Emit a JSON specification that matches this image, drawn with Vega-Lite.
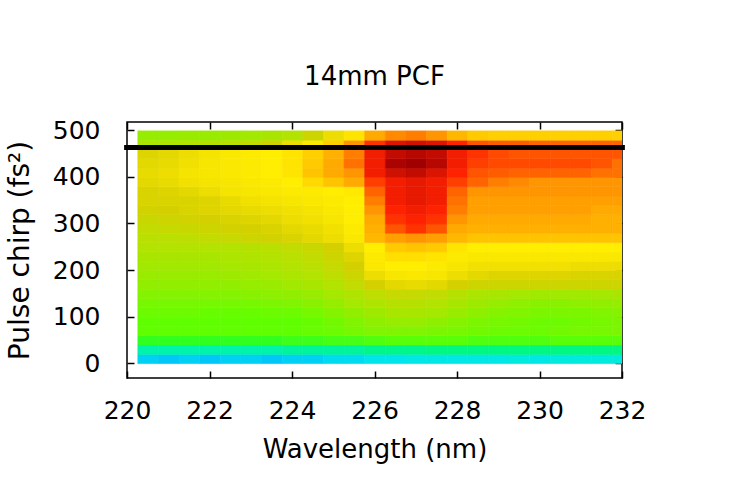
{
  "$schema": "https://vega.github.io/schema/vega-lite/v6.json",
  "autosize": "none",
  "width": 495,
  "height": 256,
  "padding": {"left": 127, "top": 122, "right": 128, "bottom": 122},
  "background": "white",
  "title": {"text": "14mm PCF", "font": "DejaVu Sans", "fontSize": 26, "fontWeight": "normal", "color": "black", "baseline": "alphabetic", "offset": 7},
  "config": {
    "view": {"stroke": "black", "strokeWidth": 1.5},
    "axis": {"font": "DejaVu Sans", "labelFont": "DejaVu Sans", "titleFont": "DejaVu Sans", "labelFontSize": 25, "titleFontSize": 26, "titleFontWeight": "normal", "labelColor": "black", "titleColor": "black", "tickColor": "black", "tickWidth": 1.5, "tickSize": -7, "domain": false, "grid": false}
  },
  "datasets": {
    "line": [{"c": 463, "w0": 219.93, "w1": 232.07}],
    "pcf": [
{"w":220.5,"c":10,"v":6},{"w":221,"c":10,"v":5},{"w":221.5,"c":10,"v":6},{"w":222,"c":10,"v":5},{"w":222.5,"c":10,"v":6},{"w":223,"c":10,"v":6},{"w":223.5,"c":10,"v":5},{"w":224,"c":10,"v":6},{"w":224.5,"c":10,"v":6},{"w":225,"c":10,"v":7},{"w":225.5,"c":10,"v":7},{"w":226,"c":10,"v":8},{"w":226.5,"c":10,"v":8},{"w":227,"c":10,"v":9},{"w":227.5,"c":10,"v":9},{"w":228,"c":10,"v":9},{"w":228.5,"c":10,"v":9},{"w":229,"c":10,"v":9},{"w":229.5,"c":10,"v":10},{"w":230,"c":10,"v":9},{"w":230.5,"c":10,"v":10},{"w":231,"c":10,"v":10},{"w":231.5,"c":10,"v":10},{"w":232,"c":10,"v":10},
{"w":220.5,"c":30,"v":14},{"w":221,"c":30,"v":14},{"w":221.5,"c":30,"v":14},{"w":222,"c":30,"v":14},{"w":222.5,"c":30,"v":14},{"w":223,"c":30,"v":14},{"w":223.5,"c":30,"v":14},{"w":224,"c":30,"v":15},{"w":224.5,"c":30,"v":15},{"w":225,"c":30,"v":15},{"w":225.5,"c":30,"v":15},{"w":226,"c":30,"v":16},{"w":226.5,"c":30,"v":16},{"w":227,"c":30,"v":16},{"w":227.5,"c":30,"v":17},{"w":228,"c":30,"v":17},{"w":228.5,"c":30,"v":17},{"w":229,"c":30,"v":17},{"w":229.5,"c":30,"v":17},{"w":230,"c":30,"v":17},{"w":230.5,"c":30,"v":17},{"w":231,"c":30,"v":17},{"w":231.5,"c":30,"v":17},{"w":232,"c":30,"v":17},
{"w":220.5,"c":50,"v":24},{"w":221,"c":50,"v":24},{"w":221.5,"c":50,"v":24},{"w":222,"c":50,"v":24},{"w":222.5,"c":50,"v":24},{"w":223,"c":50,"v":24},{"w":223.5,"c":50,"v":24},{"w":224,"c":50,"v":25},{"w":224.5,"c":50,"v":25},{"w":225,"c":50,"v":26},{"w":225.5,"c":50,"v":26},{"w":226,"c":50,"v":27},{"w":226.5,"c":50,"v":28},{"w":227,"c":50,"v":28},{"w":227.5,"c":50,"v":28},{"w":228,"c":50,"v":28},{"w":228.5,"c":50,"v":27},{"w":229,"c":50,"v":27},{"w":229.5,"c":50,"v":27},{"w":230,"c":50,"v":27},{"w":230.5,"c":50,"v":28},{"w":231,"c":50,"v":28},{"w":231.5,"c":50,"v":28},{"w":232,"c":50,"v":28},
{"w":220.5,"c":70,"v":29},{"w":221,"c":70,"v":29},{"w":221.5,"c":70,"v":29},{"w":222,"c":70,"v":29},{"w":222.5,"c":70,"v":29},{"w":223,"c":70,"v":29},{"w":223.5,"c":70,"v":29},{"w":224,"c":70,"v":29},{"w":224.5,"c":70,"v":30},{"w":225,"c":70,"v":31},{"w":225.5,"c":70,"v":33},{"w":226,"c":70,"v":35},{"w":226.5,"c":70,"v":35},{"w":227,"c":70,"v":35},{"w":227.5,"c":70,"v":34},{"w":228,"c":70,"v":33},{"w":228.5,"c":70,"v":32},{"w":229,"c":70,"v":31},{"w":229.5,"c":70,"v":31},{"w":230,"c":70,"v":31},{"w":230.5,"c":70,"v":32},{"w":231,"c":70,"v":33},{"w":231.5,"c":70,"v":33},{"w":232,"c":70,"v":34},
{"w":220.5,"c":90,"v":29},{"w":221,"c":90,"v":29},{"w":221.5,"c":90,"v":29},{"w":222,"c":90,"v":29},{"w":222.5,"c":90,"v":29},{"w":223,"c":90,"v":29},{"w":223.5,"c":90,"v":29},{"w":224,"c":90,"v":29},{"w":224.5,"c":90,"v":30},{"w":225,"c":90,"v":32},{"w":225.5,"c":90,"v":35},{"w":226,"c":90,"v":38},{"w":226.5,"c":90,"v":40},{"w":227,"c":90,"v":40},{"w":227.5,"c":90,"v":38},{"w":228,"c":90,"v":36},{"w":228.5,"c":90,"v":34},{"w":229,"c":90,"v":33},{"w":229.5,"c":90,"v":32},{"w":230,"c":90,"v":31},{"w":230.5,"c":90,"v":31},{"w":231,"c":90,"v":32},{"w":231.5,"c":90,"v":33},{"w":232,"c":90,"v":34},
{"w":220.5,"c":110,"v":31},{"w":221,"c":110,"v":31},{"w":221.5,"c":110,"v":31},{"w":222,"c":110,"v":30},{"w":222.5,"c":110,"v":30},{"w":223,"c":110,"v":30},{"w":223.5,"c":110,"v":31},{"w":224,"c":110,"v":31},{"w":224.5,"c":110,"v":33},{"w":225,"c":110,"v":36},{"w":225.5,"c":110,"v":39},{"w":226,"c":110,"v":42},{"w":226.5,"c":110,"v":45},{"w":227,"c":110,"v":45},{"w":227.5,"c":110,"v":44},{"w":228,"c":110,"v":41},{"w":228.5,"c":110,"v":38},{"w":229,"c":110,"v":36},{"w":229.5,"c":110,"v":35},{"w":230,"c":110,"v":34},{"w":230.5,"c":110,"v":34},{"w":231,"c":110,"v":34},{"w":231.5,"c":110,"v":35},{"w":232,"c":110,"v":36},
{"w":220.5,"c":130,"v":33},{"w":221,"c":130,"v":33},{"w":221.5,"c":130,"v":33},{"w":222,"c":130,"v":33},{"w":222.5,"c":130,"v":33},{"w":223,"c":130,"v":33},{"w":223.5,"c":130,"v":34},{"w":224,"c":130,"v":35},{"w":224.5,"c":130,"v":37},{"w":225,"c":130,"v":40},{"w":225.5,"c":130,"v":44},{"w":226,"c":130,"v":47},{"w":226.5,"c":130,"v":49},{"w":227,"c":130,"v":49},{"w":227.5,"c":130,"v":48},{"w":228,"c":130,"v":45},{"w":228.5,"c":130,"v":42},{"w":229,"c":130,"v":40},{"w":229.5,"c":130,"v":38},{"w":230,"c":130,"v":37},{"w":230.5,"c":130,"v":37},{"w":231,"c":130,"v":38},{"w":231.5,"c":130,"v":39},{"w":232,"c":130,"v":40},
{"w":220.5,"c":150,"v":36},{"w":221,"c":150,"v":36},{"w":221.5,"c":150,"v":36},{"w":222,"c":150,"v":36},{"w":222.5,"c":150,"v":36},{"w":223,"c":150,"v":37},{"w":223.5,"c":150,"v":38},{"w":224,"c":150,"v":39},{"w":224.5,"c":150,"v":41},{"w":225,"c":150,"v":44},{"w":225.5,"c":150,"v":47},{"w":226,"c":150,"v":51},{"w":226.5,"c":150,"v":53},{"w":227,"c":150,"v":53},{"w":227.5,"c":150,"v":52},{"w":228,"c":150,"v":49},{"w":228.5,"c":150,"v":46},{"w":229,"c":150,"v":45},{"w":229.5,"c":150,"v":44},{"w":230,"c":150,"v":43},{"w":230.5,"c":150,"v":43},{"w":231,"c":150,"v":43},{"w":231.5,"c":150,"v":44},{"w":232,"c":150,"v":45},
{"w":220.5,"c":170,"v":39},{"w":221,"c":170,"v":39},{"w":221.5,"c":170,"v":39},{"w":222,"c":170,"v":39},{"w":222.5,"c":170,"v":39},{"w":223,"c":170,"v":40},{"w":223.5,"c":170,"v":41},{"w":224,"c":170,"v":43},{"w":224.5,"c":170,"v":45},{"w":225,"c":170,"v":48},{"w":225.5,"c":170,"v":52},{"w":226,"c":170,"v":57},{"w":226.5,"c":170,"v":60},{"w":227,"c":170,"v":61},{"w":227.5,"c":170,"v":60},{"w":228,"c":170,"v":57},{"w":228.5,"c":170,"v":55},{"w":229,"c":170,"v":55},{"w":229.5,"c":170,"v":55},{"w":230,"c":170,"v":55},{"w":230.5,"c":170,"v":55},{"w":231,"c":170,"v":55},{"w":231.5,"c":170,"v":55},{"w":232,"c":170,"v":55},
{"w":220.5,"c":190,"v":41},{"w":221,"c":190,"v":41},{"w":221.5,"c":190,"v":41},{"w":222,"c":190,"v":41},{"w":222.5,"c":190,"v":42},{"w":223,"c":190,"v":43},{"w":223.5,"c":190,"v":44},{"w":224,"c":190,"v":46},{"w":224.5,"c":190,"v":48},{"w":225,"c":190,"v":51},{"w":225.5,"c":190,"v":55},{"w":226,"c":190,"v":62},{"w":226.5,"c":190,"v":65},{"w":227,"c":190,"v":66},{"w":227.5,"c":190,"v":65},{"w":228,"c":190,"v":62},{"w":228.5,"c":190,"v":60},{"w":229,"c":190,"v":59},{"w":229.5,"c":190,"v":59},{"w":230,"c":190,"v":59},{"w":230.5,"c":190,"v":59},{"w":231,"c":190,"v":58},{"w":231.5,"c":190,"v":58},{"w":232,"c":190,"v":58},
{"w":220.5,"c":210,"v":43},{"w":221,"c":210,"v":43},{"w":221.5,"c":210,"v":43},{"w":222,"c":210,"v":43},{"w":222.5,"c":210,"v":44},{"w":223,"c":210,"v":45},{"w":223.5,"c":210,"v":46},{"w":224,"c":210,"v":48},{"w":224.5,"c":210,"v":50},{"w":225,"c":210,"v":53},{"w":225.5,"c":210,"v":57},{"w":226,"c":210,"v":66},{"w":226.5,"c":210,"v":68},{"w":227,"c":210,"v":68},{"w":227.5,"c":210,"v":67},{"w":228,"c":210,"v":65},{"w":228.5,"c":210,"v":63},{"w":229,"c":210,"v":63},{"w":229.5,"c":210,"v":63},{"w":230,"c":210,"v":63},{"w":230.5,"c":210,"v":63},{"w":231,"c":210,"v":62},{"w":231.5,"c":210,"v":62},{"w":232,"c":210,"v":62},
{"w":220.5,"c":230,"v":45},{"w":221,"c":230,"v":45},{"w":221.5,"c":230,"v":45},{"w":222,"c":230,"v":45},{"w":222.5,"c":230,"v":46},{"w":223,"c":230,"v":47},{"w":223.5,"c":230,"v":48},{"w":224,"c":230,"v":50},{"w":224.5,"c":230,"v":52},{"w":225,"c":230,"v":55},{"w":225.5,"c":230,"v":59},{"w":226,"c":230,"v":67},{"w":226.5,"c":230,"v":71},{"w":227,"c":230,"v":71},{"w":227.5,"c":230,"v":70},{"w":228,"c":230,"v":67},{"w":228.5,"c":230,"v":66},{"w":229,"c":230,"v":66},{"w":229.5,"c":230,"v":66},{"w":230,"c":230,"v":66},{"w":230.5,"c":230,"v":66},{"w":231,"c":230,"v":66},{"w":231.5,"c":230,"v":66},{"w":232,"c":230,"v":66},
{"w":220.5,"c":250,"v":48},{"w":221,"c":250,"v":48},{"w":221.5,"c":250,"v":48},{"w":222,"c":250,"v":48},{"w":222.5,"c":250,"v":48},{"w":223,"c":250,"v":49},{"w":223.5,"c":250,"v":50},{"w":224,"c":250,"v":52},{"w":224.5,"c":250,"v":54},{"w":225,"c":250,"v":57},{"w":225.5,"c":250,"v":62},{"w":226,"c":250,"v":68},{"w":226.5,"c":250,"v":75},{"w":227,"c":250,"v":76},{"w":227.5,"c":250,"v":75},{"w":228,"c":250,"v":70},{"w":228.5,"c":250,"v":68},{"w":229,"c":250,"v":68},{"w":229.5,"c":250,"v":68},{"w":230,"c":250,"v":68},{"w":230.5,"c":250,"v":68},{"w":231,"c":250,"v":68},{"w":231.5,"c":250,"v":68},{"w":232,"c":250,"v":68},
{"w":220.5,"c":270,"v":50},{"w":221,"c":270,"v":50},{"w":221.5,"c":270,"v":51},{"w":222,"c":270,"v":52},{"w":222.5,"c":270,"v":53},{"w":223,"c":270,"v":55},{"w":223.5,"c":270,"v":56},{"w":224,"c":270,"v":58},{"w":224.5,"c":270,"v":60},{"w":225,"c":270,"v":62},{"w":225.5,"c":270,"v":66},{"w":226,"c":270,"v":78},{"w":226.5,"c":270,"v":81},{"w":227,"c":270,"v":82},{"w":227.5,"c":270,"v":81},{"w":228,"c":270,"v":78},{"w":228.5,"c":270,"v":76},{"w":229,"c":270,"v":76},{"w":229.5,"c":270,"v":76},{"w":230,"c":270,"v":76},{"w":230.5,"c":270,"v":76},{"w":231,"c":270,"v":76},{"w":231.5,"c":270,"v":76},{"w":232,"c":270,"v":76},
{"w":220.5,"c":290,"v":52},{"w":221,"c":290,"v":53},{"w":221.5,"c":290,"v":54},{"w":222,"c":290,"v":55},{"w":222.5,"c":290,"v":56},{"w":223,"c":290,"v":57},{"w":223.5,"c":290,"v":58},{"w":224,"c":290,"v":60},{"w":224.5,"c":290,"v":61},{"w":225,"c":290,"v":63},{"w":225.5,"c":290,"v":67},{"w":226,"c":290,"v":79},{"w":226.5,"c":290,"v":88},{"w":227,"c":290,"v":91},{"w":227.5,"c":290,"v":88},{"w":228,"c":290,"v":80},{"w":228.5,"c":290,"v":79},{"w":229,"c":290,"v":79},{"w":229.5,"c":290,"v":79},{"w":230,"c":290,"v":79},{"w":230.5,"c":290,"v":79},{"w":231,"c":290,"v":79},{"w":231.5,"c":290,"v":79},{"w":232,"c":290,"v":79},
{"w":220.5,"c":310,"v":54},{"w":221,"c":310,"v":55},{"w":221.5,"c":310,"v":56},{"w":222,"c":310,"v":57},{"w":222.5,"c":310,"v":58},{"w":223,"c":310,"v":59},{"w":223.5,"c":310,"v":60},{"w":224,"c":310,"v":62},{"w":224.5,"c":310,"v":63},{"w":225,"c":310,"v":65},{"w":225.5,"c":310,"v":68},{"w":226,"c":310,"v":80},{"w":226.5,"c":310,"v":91},{"w":227,"c":310,"v":92},{"w":227.5,"c":310,"v":91},{"w":228,"c":310,"v":82},{"w":228.5,"c":310,"v":80},{"w":229,"c":310,"v":80},{"w":229.5,"c":310,"v":80},{"w":230,"c":310,"v":80},{"w":230.5,"c":310,"v":80},{"w":231,"c":310,"v":80},{"w":231.5,"c":310,"v":79},{"w":232,"c":310,"v":79},
{"w":220.5,"c":330,"v":56},{"w":221,"c":330,"v":57},{"w":221.5,"c":330,"v":58},{"w":222,"c":330,"v":59},{"w":222.5,"c":330,"v":60},{"w":223,"c":330,"v":61},{"w":223.5,"c":330,"v":62},{"w":224,"c":330,"v":63},{"w":224.5,"c":330,"v":64},{"w":225,"c":330,"v":66},{"w":225.5,"c":330,"v":68},{"w":226,"c":330,"v":82},{"w":226.5,"c":330,"v":92},{"w":227,"c":330,"v":93},{"w":227.5,"c":330,"v":92},{"w":228,"c":330,"v":84},{"w":228.5,"c":330,"v":81},{"w":229,"c":330,"v":81},{"w":229.5,"c":330,"v":81},{"w":230,"c":330,"v":81},{"w":230.5,"c":330,"v":81},{"w":231,"c":330,"v":81},{"w":231.5,"c":330,"v":80},{"w":232,"c":330,"v":80},
{"w":220.5,"c":350,"v":58},{"w":221,"c":350,"v":58},{"w":221.5,"c":350,"v":58},{"w":222,"c":350,"v":59},{"w":222.5,"c":350,"v":61},{"w":223,"c":350,"v":63},{"w":223.5,"c":350,"v":64},{"w":224,"c":350,"v":65},{"w":224.5,"c":350,"v":66},{"w":225,"c":350,"v":67},{"w":225.5,"c":350,"v":68},{"w":226,"c":350,"v":84},{"w":226.5,"c":350,"v":93},{"w":227,"c":350,"v":94},{"w":227.5,"c":350,"v":93},{"w":228,"c":350,"v":85},{"w":228.5,"c":350,"v":81},{"w":229,"c":350,"v":81},{"w":229.5,"c":350,"v":81},{"w":230,"c":350,"v":81},{"w":230.5,"c":350,"v":81},{"w":231,"c":350,"v":81},{"w":231.5,"c":350,"v":81},{"w":232,"c":350,"v":81},
{"w":220.5,"c":370,"v":58},{"w":221,"c":370,"v":59},{"w":221.5,"c":370,"v":60},{"w":222,"c":370,"v":62},{"w":222.5,"c":370,"v":64},{"w":223,"c":370,"v":65},{"w":223.5,"c":370,"v":66},{"w":224,"c":370,"v":67},{"w":224.5,"c":370,"v":67},{"w":225,"c":370,"v":68},{"w":225.5,"c":370,"v":69},{"w":226,"c":370,"v":86},{"w":226.5,"c":370,"v":93},{"w":227,"c":370,"v":94},{"w":227.5,"c":370,"v":93},{"w":228,"c":370,"v":86},{"w":228.5,"c":370,"v":82},{"w":229,"c":370,"v":82},{"w":229.5,"c":370,"v":82},{"w":230,"c":370,"v":82},{"w":230.5,"c":370,"v":82},{"w":231,"c":370,"v":82},{"w":231.5,"c":370,"v":82},{"w":232,"c":370,"v":82},
{"w":220.5,"c":390,"v":60},{"w":221,"c":390,"v":61},{"w":221.5,"c":390,"v":63},{"w":222,"c":390,"v":64},{"w":222.5,"c":390,"v":65},{"w":223,"c":390,"v":66},{"w":223.5,"c":390,"v":67},{"w":224,"c":390,"v":68},{"w":224.5,"c":390,"v":72},{"w":225,"c":390,"v":76},{"w":225.5,"c":390,"v":80},{"w":226,"c":390,"v":90},{"w":226.5,"c":390,"v":93},{"w":227,"c":390,"v":94},{"w":227.5,"c":390,"v":93},{"w":228,"c":390,"v":90},{"w":228.5,"c":390,"v":86},{"w":229,"c":390,"v":84},{"w":229.5,"c":390,"v":83},{"w":230,"c":390,"v":82},{"w":230.5,"c":390,"v":82},{"w":231,"c":390,"v":82},{"w":231.5,"c":390,"v":82},{"w":232,"c":390,"v":82},
{"w":220.5,"c":410,"v":61},{"w":221,"c":410,"v":62},{"w":221.5,"c":410,"v":64},{"w":222,"c":410,"v":65},{"w":222.5,"c":410,"v":66},{"w":223,"c":410,"v":67},{"w":223.5,"c":410,"v":68},{"w":224,"c":410,"v":70},{"w":224.5,"c":410,"v":76},{"w":225,"c":410,"v":80},{"w":225.5,"c":410,"v":82},{"w":226,"c":410,"v":93},{"w":226.5,"c":410,"v":96},{"w":227,"c":410,"v":97},{"w":227.5,"c":410,"v":95},{"w":228,"c":410,"v":92},{"w":228.5,"c":410,"v":88},{"w":229,"c":410,"v":87},{"w":229.5,"c":410,"v":86},{"w":230,"c":410,"v":86},{"w":230.5,"c":410,"v":86},{"w":231,"c":410,"v":86},{"w":231.5,"c":410,"v":85},{"w":232,"c":410,"v":85},
{"w":220.5,"c":430,"v":60},{"w":221,"c":430,"v":61},{"w":221.5,"c":430,"v":63},{"w":222,"c":430,"v":65},{"w":222.5,"c":430,"v":66},{"w":223,"c":430,"v":67},{"w":223.5,"c":430,"v":68},{"w":224,"c":430,"v":70},{"w":224.5,"c":430,"v":75},{"w":225,"c":430,"v":80},{"w":225.5,"c":430,"v":85},{"w":226,"c":430,"v":93},{"w":226.5,"c":430,"v":99},{"w":227,"c":430,"v":100},{"w":227.5,"c":430,"v":98},{"w":228,"c":430,"v":93},{"w":228.5,"c":430,"v":90},{"w":229,"c":430,"v":89},{"w":229.5,"c":430,"v":89},{"w":230,"c":430,"v":89},{"w":230.5,"c":430,"v":89},{"w":231,"c":430,"v":89},{"w":231.5,"c":430,"v":88},{"w":232,"c":430,"v":85},
{"w":220.5,"c":450,"v":59},{"w":221,"c":450,"v":60},{"w":221.5,"c":450,"v":62},{"w":222,"c":450,"v":64},{"w":222.5,"c":450,"v":66},{"w":223,"c":450,"v":67},{"w":223.5,"c":450,"v":68},{"w":224,"c":450,"v":70},{"w":224.5,"c":450,"v":74},{"w":225,"c":450,"v":79},{"w":225.5,"c":450,"v":84},{"w":226,"c":450,"v":93},{"w":226.5,"c":450,"v":97},{"w":227,"c":450,"v":98},{"w":227.5,"c":450,"v":97},{"w":228,"c":450,"v":93},{"w":228.5,"c":450,"v":91},{"w":229,"c":450,"v":89},{"w":229.5,"c":450,"v":88},{"w":230,"c":450,"v":88},{"w":230.5,"c":450,"v":88},{"w":231,"c":450,"v":88},{"w":231.5,"c":450,"v":88},{"w":232,"c":450,"v":88},
{"w":220.5,"c":470,"v":46},{"w":221,"c":470,"v":47},{"w":221.5,"c":470,"v":48},{"w":222,"c":470,"v":49},{"w":222.5,"c":470,"v":50},{"w":223,"c":470,"v":52},{"w":223.5,"c":470,"v":56},{"w":224,"c":470,"v":62},{"w":224.5,"c":470,"v":67},{"w":225,"c":470,"v":74},{"w":225.5,"c":470,"v":82},{"w":226,"c":470,"v":91},{"w":226.5,"c":470,"v":95},{"w":227,"c":470,"v":96},{"w":227.5,"c":470,"v":95},{"w":228,"c":470,"v":92},{"w":228.5,"c":470,"v":88},{"w":229,"c":470,"v":87},{"w":229.5,"c":470,"v":87},{"w":230,"c":470,"v":86},{"w":230.5,"c":470,"v":86},{"w":231,"c":470,"v":86},{"w":231.5,"c":470,"v":86},{"w":232,"c":470,"v":86},
{"w":220.5,"c":490,"v":40},{"w":221,"c":490,"v":40},{"w":221.5,"c":490,"v":41},{"w":222,"c":490,"v":41},{"w":222.5,"c":490,"v":42},{"w":223,"c":490,"v":43},{"w":223.5,"c":490,"v":45},{"w":224,"c":490,"v":48},{"w":224.5,"c":490,"v":55},{"w":225,"c":490,"v":62},{"w":225.5,"c":490,"v":70},{"w":226,"c":490,"v":80},{"w":226.5,"c":490,"v":83},{"w":227,"c":490,"v":84},{"w":227.5,"c":490,"v":82},{"w":228,"c":490,"v":78},{"w":228.5,"c":490,"v":75},{"w":229,"c":490,"v":74},{"w":229.5,"c":490,"v":74},{"w":230,"c":490,"v":74},{"w":230.5,"c":490,"v":74},{"w":231,"c":490,"v":74},{"w":231.5,"c":490,"v":74},{"w":232,"c":490,"v":74}
    ]
  },
  "layer": [
    {
      "data": {"name": "pcf"},
      "mark": {"type": "rect", "clip": true, "strokeWidth": 0.6},
      "encoding": {
        "x": {"field": "w", "type": "quantitative", "bin": {"anchor": 220.25, "step": 0.5, "extent": [220.25, 232.25]},
          "scale": {"domain": [220, 232], "nice": false, "zero": false},
          "axis": {"orient": "bottom", "values": [220, 222, 224, 226, 228, 230, 232], "format": "d", "labelPadding": 27, "labelFlush": false, "labelOverlap": false, "title": "Wavelength (nm)", "titleBaseline": "alphabetic", "titleY": 79}},
        "y": {"field": "c", "type": "quantitative", "bin": {"anchor": 0, "step": 20, "extent": [0, 500]},
          "scale": {"domain": [-32, 518], "nice": false, "zero": false},
          "axis": {"orient": "left", "values": [0, 100, 200, 300, 400, 500], "format": "d", "labelPadding": 34, "labelFlush": false, "labelOverlap": false, "title": "Pulse chirp (fs²)", "titleFontSize": 28, "titleBaseline": "alphabetic", "titleX": -99}},
        "color": {"field": "v", "type": "quantitative", "legend": null,
          "scale": {"domain": [0, 8, 16, 24, 29, 35, 42, 50, 57, 63, 68, 75, 80, 86, 92, 100],
            "range": ["#0a8ff5", "#00e4ec", "#00f58a", "#30ff20", "#60ff00", "#80f400", "#9dea00", "#b9e000", "#d4d000", "#f2e000", "#ffee00", "#ffca00", "#ffaa00", "#ff6400", "#ff2200", "#a00000"]}},
        "stroke": {"field": "v", "type": "quantitative", "legend": null,
          "scale": {"domain": [0, 8, 16, 24, 29, 35, 42, 50, 57, 63, 68, 75, 80, 86, 92, 100],
            "range": ["#0a8ff5", "#00e4ec", "#00f58a", "#30ff20", "#60ff00", "#80f400", "#9dea00", "#b9e000", "#d4d000", "#f2e000", "#ffee00", "#ffca00", "#ffaa00", "#ff6400", "#ff2200", "#a00000"]}}
      }
    },
    {
      "data": {"name": "line"},
      "mark": {"type": "rule", "color": "black", "strokeWidth": 5, "clip": false},
      "encoding": {
        "x": {"field": "w0", "type": "quantitative", "scale": {"domain": [220, 232], "nice": false, "zero": false},
          "axis": {"orient": "top", "values": [220, 222, 224, 226, 228, 230, 232], "labels": false, "title": null}},
        "x2": {"field": "w1"},
        "y": {"field": "c", "type": "quantitative", "scale": {"domain": [-32, 518], "nice": false, "zero": false},
          "axis": {"orient": "right", "values": [0, 100, 200, 300, 400, 500], "labels": false, "title": null}}
      }
    }
  ],
  "resolve": {"axis": {"x": "independent", "y": "independent"}}
}
